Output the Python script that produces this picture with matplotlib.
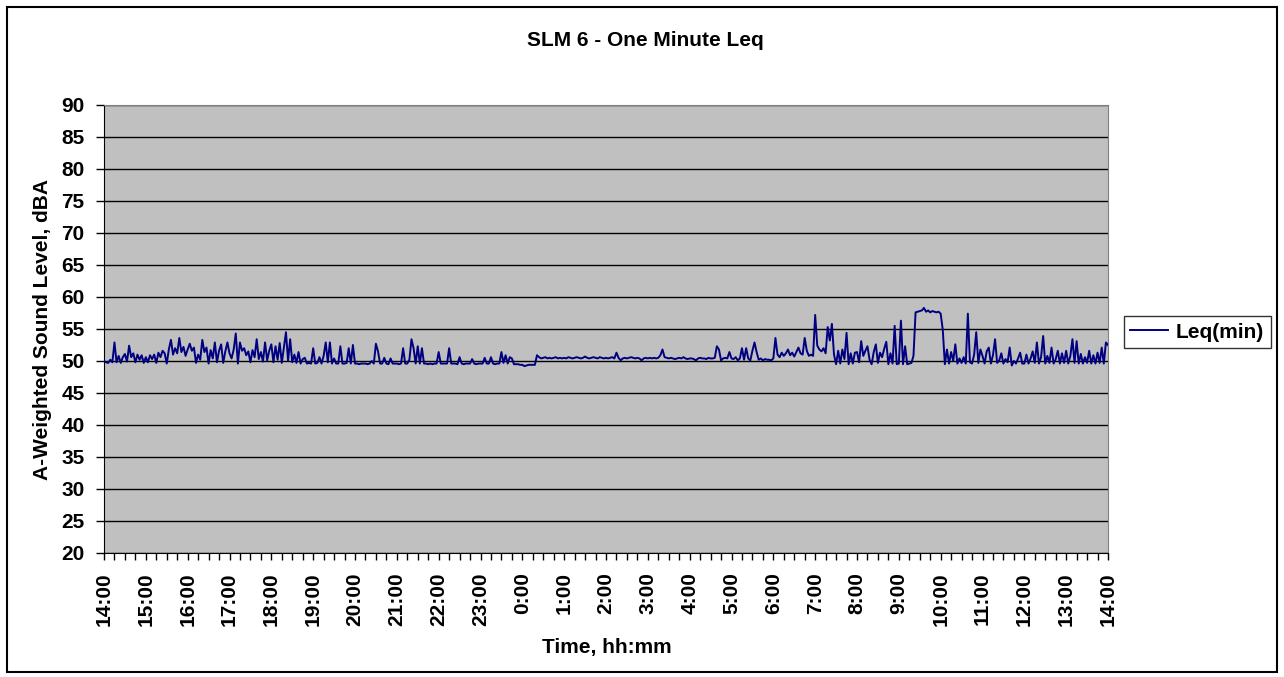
import matplotlib
matplotlib.use('Agg')
import matplotlib.pyplot as plt
from matplotlib.patches import Rectangle
from matplotlib.ticker import MultipleLocator

# one-minute Leq, one value every 3 minutes from 14:00
leq_afternoon = [  # 14:00 - 17:59
    50.0, 49.8, 49.7, 50.2, 49.8, 52.9, 49.8, 50.8, 49.7, 50.6, 51.1, 49.9, 52.4, 50.6, 51.2, 49.8, 51.0, 50.2, 50.9, 49.7,
    50.6, 49.8, 50.9, 50.3, 51.0, 49.7, 51.3, 50.6, 51.6, 51.2, 49.6, 51.8, 53.3, 51.0, 52.0, 51.2, 53.6, 51.4, 52.2, 50.8,
    51.8, 52.7, 51.6, 52.1, 49.7, 51.0, 50.2, 53.3, 51.4, 52.1, 49.6, 51.7, 50.4, 52.9, 49.8, 51.6, 52.6, 49.7, 51.5, 52.9,
    51.2, 50.4, 51.8, 54.3, 49.6, 52.9, 51.6, 52.0, 50.9, 51.5, 49.8, 51.7, 50.6, 53.4, 50.3, 51.4, 49.9, 52.9, 50.1, 51.6,
]
leq_evening = [  # 18:00 - 21:59
    52.6, 49.8, 52.3, 50.2, 52.8, 49.7, 52.1, 54.5, 50.0, 53.4, 49.8, 51.0, 49.7, 51.4, 49.6, 50.3, 50.5, 49.6, 49.7, 49.6,
    52.0, 49.6, 49.7, 50.6, 49.6, 50.8, 52.9, 49.8, 52.9, 49.6, 50.4, 49.6, 49.6, 52.3, 49.6, 49.6, 49.7, 52.0, 49.6, 52.5,
    49.6, 49.6, 49.5, 49.6, 49.6, 49.6, 49.5, 49.6, 50.0, 49.6, 52.7, 51.5, 49.6, 49.6, 50.5, 49.6, 49.5, 50.4, 49.6, 49.6,
    49.6, 49.5, 49.6, 52.0, 49.6, 49.6, 50.2, 53.4, 52.0, 49.6, 52.3, 49.6, 52.0, 49.6, 49.6, 49.5, 49.6, 49.5, 49.6, 49.6,
]
leq_night = [  # 22:00 - 1:59
    51.4, 49.6, 49.6, 49.6, 49.6, 52.0, 49.6, 49.6, 49.6, 49.5, 50.6, 49.6, 49.5, 49.6, 49.6, 49.6, 50.3, 49.6, 49.5, 49.6,
    49.6, 49.6, 50.5, 49.6, 49.6, 50.6, 49.6, 49.5, 49.6, 49.6, 51.4, 49.7, 50.9, 49.6, 50.6, 50.4, 49.5, 49.5, 49.5, 49.4,
    49.4, 49.2, 49.3, 49.4, 49.4, 49.4, 49.4, 50.9, 50.6, 50.4, 50.5, 50.6, 50.4, 50.5, 50.4, 50.5, 50.6, 50.4, 50.5, 50.4,
    50.5, 50.4, 50.6, 50.5, 50.4, 50.5, 50.6, 50.5, 50.4, 50.5, 50.7, 50.5, 50.4, 50.5, 50.6, 50.5, 50.4, 50.6, 50.5, 50.4,
]
leq_early = [  # 2:00 - 5:59
    50.5, 50.4, 50.5, 50.6, 50.4, 51.3, 50.5, 50.1, 50.4, 50.5, 50.4, 50.5, 50.6, 50.5, 50.4, 50.5, 50.4, 50.1, 50.4, 50.5,
    50.4, 50.5, 50.4, 50.5, 50.4, 50.5, 50.9, 51.8, 50.6, 50.5, 50.4, 50.5, 50.4, 50.3, 50.4, 50.5, 50.4, 50.6, 50.4, 50.3,
    50.4, 50.4, 50.3, 50.1, 50.4, 50.5, 50.4, 50.4, 50.3, 50.5, 50.4, 50.4, 50.5, 52.3, 51.8, 50.1, 50.4, 50.5, 50.4, 51.4,
    50.4, 50.3, 50.6, 50.1, 50.4, 52.0, 50.2, 52.0, 50.4, 50.1, 51.6, 52.9, 51.4, 50.2, 50.4, 50.1, 50.3, 50.2, 50.2, 50.1,
]
leq_morning = [  # 6:00 - 9:59
    50.4, 53.6, 51.0, 50.6, 51.3, 50.8, 51.2, 51.8, 50.9, 51.3, 50.7, 51.4, 52.1, 51.2, 51.0, 53.6, 51.6, 50.8, 51.0, 50.8,
    57.2, 52.4, 51.8, 51.5, 52.0, 51.2, 55.3, 53.2, 55.8, 51.0, 49.5, 51.6, 49.6, 51.8, 50.3, 54.4, 49.5, 51.2, 49.6, 51.3,
    51.4, 49.8, 53.1, 50.8, 51.6, 52.3, 50.2, 49.5, 51.4, 52.6, 49.7, 51.3, 50.6, 51.9, 53.0, 49.5, 51.2, 49.6, 55.5, 49.5,
    49.6, 56.3, 49.5, 52.3, 49.5, 49.6, 49.7, 50.8, 57.6, 57.7, 57.8, 57.9, 58.3, 57.7, 57.9, 57.6, 57.8, 57.7, 57.6, 57.7,
]
leq_midday = [  # 10:00 - 14:00
    57.4, 54.9, 49.5, 51.8, 49.6, 51.4, 50.0, 52.6, 49.6, 50.4, 49.7, 50.6, 49.6, 57.4, 49.8, 49.6, 51.0, 54.5, 49.7, 51.8,
    50.8, 49.6, 51.5, 52.1, 49.6, 50.9, 53.4, 49.7, 50.1, 51.2, 49.6, 50.3, 49.8, 52.1, 49.3, 50.0, 49.6, 50.4, 51.3, 49.6,
    49.6, 51.0, 49.6, 50.4, 51.5, 49.7, 52.9, 49.6, 50.6, 53.9, 49.6, 50.8, 49.7, 52.1, 49.6, 50.3, 51.6, 49.6, 51.2, 49.7,
    51.6, 49.6, 50.8, 53.4, 49.7, 53.1, 49.6, 51.1, 49.6, 50.6, 49.7, 51.6, 49.6, 50.9, 49.6, 51.3, 49.7, 52.1, 49.6, 52.9,
    52.5,
]
step_min = 3

hour_labels = ['14:00', '15:00', '16:00', '17:00', '18:00', '19:00', '20:00', '21:00',
               '22:00', '23:00', '0:00', '1:00', '2:00', '3:00', '4:00', '5:00', '6:00',
               '7:00', '8:00', '9:00', '10:00', '11:00', '12:00', '13:00', '14:00']

leq = leq_afternoon + leq_evening + leq_night + leq_early + leq_morning + leq_midday
minutes = [i * step_min for i in range(len(leq))]

plt.rcParams['font.family'] = ['Liberation Sans', 'DejaVu Sans']
plt.rcParams['font.weight'] = 'bold'
FS = 15

fig = plt.figure(figsize=(12.84, 6.77), dpi=100)
ax = fig.add_axes([104 / 1284, 1 - 553 / 677, (1108 - 104) / 1284, (553 - 105) / 677])
ax.set_facecolor('#c0c0c0')

ax.plot(minutes, leq, color='#000080', linewidth=1.4, label='Leq(min)', zorder=3)

ax.set_xlim(0, 24 * 60)
ax.set_ylim(20, 90)
ax.yaxis.set_major_locator(MultipleLocator(5))
ax.grid(axis='y', color='black', linewidth=1)
ax.set_axisbelow(True)

ax.set_xticks([h * 60 for h in range(len(hour_labels))])
ax.set_xticklabels(hour_labels, rotation=90, fontsize=FS, fontweight='bold')
ax.xaxis.set_minor_locator(MultipleLocator(15))
ax.tick_params(axis='x', which='both', direction='out', length=5, width=1, pad=9)
ax.tick_params(axis='y', direction='out', length=6, width=1, labelsize=FS, pad=8)
for lab in ax.get_yticklabels():
    lab.set_fontweight('bold')

for side in ('left', 'bottom'):
    ax.spines[side].set_color('black')
for side in ('top', 'right'):
    ax.spines[side].set_color('#808080')

ax.set_ylabel('A-Weighted Sound Level, dBA', fontsize=FS, fontweight='bold')
ax.yaxis.set_label_coords(-0.052, 0.5)
fig.text(607 / 1284, 1 - 648 / 677, 'Time, hh:mm', fontsize=FS, fontweight='bold',
         ha='center', va='center')
fig.text(645 / 1284, 1 - 41 / 677, 'SLM 6 - One Minute Leq', fontsize=FS, fontweight='bold',
         ha='center', va='center')

leg = ax.legend(loc='center left', bbox_to_anchor=(1124 / 1284, 1 - 332 / 677),
                bbox_transform=fig.transFigure, fontsize=FS, frameon=True, fancybox=False,
                edgecolor='black', handlelength=1.8, handletextpad=0.4, borderpad=0.3,
                borderaxespad=0)
leg.get_frame().set_linewidth(1)
for t in leg.get_texts():
    t.set_fontweight('bold')

fig.add_artist(Rectangle((7 / 1284, 5 / 677), 1270 / 1284, 665 / 677, transform=fig.transFigure,
                         fill=False, edgecolor='black', linewidth=1.5))

fig.savefig('out.png', dpi=100)
